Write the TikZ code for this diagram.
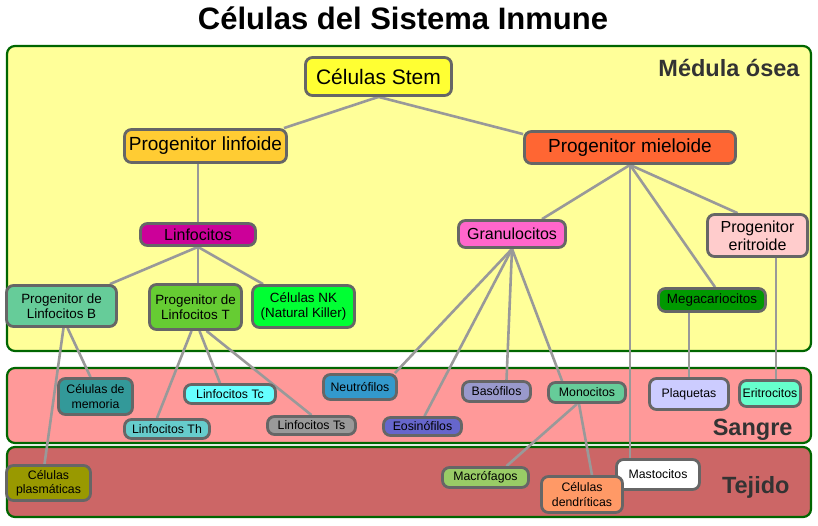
\documentclass[tikz,border=0pt]{standalone}
\usepackage{fontspec}
\setmainfont{Liberation Sans}
\usepackage{tikz}
\usetikzlibrary{backgrounds}

\definecolor{zonegreen}{HTML}{006600}
\definecolor{cmedula}{HTML}{FFFF99}
\definecolor{csangre}{HTML}{FF9999}
\definecolor{ctejido}{HTML}{CC6666}
\definecolor{labelgray}{HTML}{333333}
\definecolor{cellborder}{HTML}{666666}
\definecolor{linkgray}{HTML}{999999}
\definecolor{cstem}{HTML}{FFFF33}
\definecolor{cplinf}{HTML}{FFCC33}
\definecolor{cpmiel}{HTML}{FF6633}
\definecolor{clinfo}{HTML}{CC0099}
\definecolor{cgran}{HTML}{FF66CC}
\definecolor{cperi}{HTML}{FFCCCC}
\definecolor{cmega}{HTML}{009900}
\definecolor{cprogb}{HTML}{66CC99}
\definecolor{cprogt}{HTML}{66CC33}
\definecolor{cnk}{HTML}{00FF33}
\definecolor{cmem}{HTML}{339999}
\definecolor{ctc}{HTML}{66FFFF}
\definecolor{cth}{HTML}{66CCCC}
\definecolor{cts}{HTML}{999999}
\definecolor{cneutro}{HTML}{3399CC}
\definecolor{ceosin}{HTML}{6666CC}
\definecolor{cplasm}{HTML}{999900}
\definecolor{cbaso}{HTML}{9999CC}
\definecolor{cmono}{HTML}{66CC99}
\definecolor{cplaq}{HTML}{CCCCFF}
\definecolor{ceritro}{HTML}{66FFCC}
\definecolor{cmacro}{HTML}{99CC66}
\definecolor{cdendr}{HTML}{FF9966}

\tikzstyle{cell} = [rectangle, rounded corners=7pt, draw=cellborder, line width=2.8pt, align=center, inner sep=0pt, text=black]
\tikzstyle{sml} = [font=\fontsize{12.3}{14.3}\selectfont]
\tikzstyle{mid} = [font=\fontsize{13.4}{15}\selectfont]
\tikzstyle{big} = [font=\fontsize{16}{17.7}\selectfont]
\tikzstyle{huge} = [font=\fontsize{19}{21}\selectfont]
\tikzstyle{link} = [draw=linkgray, line width=2.6pt]
\tikzstyle{zone} = [draw=zonegreen, line width=2.2pt, rounded corners=8pt]
\tikzstyle{zonelabel} = [anchor=base east, text=labelgray, font=\fontsize{23.5}{26}\selectfont\bfseries]

\begin{document}
\begin{tikzpicture}[x=1pt, y=-1pt]

\useasboundingbox (0,0) rectangle (818,526);

\begin{pgfonlayer}{background}
\draw [zone, fill=cmedula] (7,46) rectangle (811,351);
\draw [zone, fill=csangre] (7,368) rectangle (811,443);
\draw [zone, fill=ctejido] (7,447) rectangle (811,517);
\end{pgfonlayer}

\node (title) [anchor=base, font=\fontsize{31}{34}\selectfont\bfseries] at (403,30) {Células del Sistema Inmune};
\node (lmedula) [zonelabel] at (803,77) {Médula ósea};
\node (lsangre) [zonelabel] at (796,435) {Sangre};
\node (ltejido) [zonelabel] at (793,493) {Tejido};

\node (stem) [cell, fill=cstem, minimum width=146pt, minimum height=38pt, font=\fontsize{21}{23}\selectfont] at (378.5,76.5) {Células Stem};
\node (plinf) [cell, huge, fill=cplinf, minimum width=162pt, minimum height=33pt] at (205.5,146) {Progenitor linfoide};
\node (pmiel) [cell, huge, fill=cpmiel, minimum width=211pt, minimum height=32pt] at (630,147.5) {Progenitor mieloide};

\node (linfo) [cell, big, fill=clinfo, minimum width=115pt, minimum height=22pt] at (198,234.5) {Linfocitos};
\node (gran) [cell, big, fill=cgran, minimum width=107pt, minimum height=27pt] at (512,234) {Granulocitos};
\node (peri) [cell, big, fill=cperi, minimum width=100pt, minimum height=42pt] at (757.5,235.5) {Progenitor\\eritroide};
\node (mega) [cell, mid, fill=cmega, minimum width=107pt, minimum height=23pt] at (712,300) {Megacariocitos};

\node (progb) [cell, mid, fill=cprogb, minimum width=110pt, minimum height=41pt] at (61.5,306) {Progenitor de\\Linfocitos B};
\node (progt) [cell, mid, fill=cprogt, minimum width=92pt, minimum height=45pt] at (195.5,307) {Progenitor de\\Linfocitos T};
\node (nk) [cell, mid, fill=cnk, minimum width=102pt, minimum height=42pt] at (303.5,306.5) {Células NK\\(Natural Killer)};

\node (mem) [cell, sml, fill=cmem, minimum width=74pt, minimum height=36pt] at (95.5,396.5) {Células de\\memoria};
\node (tc) [cell, sml, fill=ctc, minimum width=91pt, minimum height=19pt] at (230,394) {Linfocitos Tc};
\node (th) [cell, sml, fill=cth, minimum width=85pt, minimum height=19pt] at (167,429) {Linfocitos Th};
\node (ts) [cell, sml, fill=cts, minimum width=88pt, minimum height=18pt] at (311.5,425.5) {Linfocitos Ts};
\node (neutro) [cell, sml, fill=cneutro, minimum width=73pt, minimum height=25pt] at (360,387) {Neutrófilos};
\node (eosin) [cell, sml, fill=ceosin, minimum width=78pt, minimum height=18pt] at (422.5,426.5) {Eosinófilos};
\node (baso) [cell, sml, fill=cbaso, minimum width=68pt, minimum height=20pt] at (496.5,391.5) {Basófilos};
\node (mono) [cell, sml, fill=cmono, minimum width=77pt, minimum height=20pt] at (587,392.5) {Monocitos};
\node (plaq) [cell, sml, fill=cplaq, minimum width=79pt, minimum height=31pt] at (689,394) {Plaquetas};
\node (eritro) [cell, sml, fill=ceritro, minimum width=61pt, minimum height=26pt] at (770,393.5) {Eritrocitos};

\node (plasm) [cell, sml, fill=cplasm, minimum width=84pt, minimum height=35pt] at (48.5,483) {Células\\plasmáticas};
\node (macro) [cell, sml, fill=cmacro, minimum width=86pt, minimum height=20pt] at (485.5,477.5) {Macrófagos};
\node (masto) [cell, sml, fill=white, minimum width=83pt, minimum height=30pt] at (658,474.5) {Mastocitos};
\node (dendr) [cell, sml, fill=cdendr, minimum width=81pt, minimum height=36pt] at (582,494.5) {Células\\dendríticas};

\begin{pgfonlayer}{background}
\draw [link] (stem.south) -- ([xshift=-4pt]plinf.north east);
\draw [link] (stem.south) -- ([yshift=-4pt]pmiel.north west);
\draw [link] (linfo.north) -- (linfo.north |- plinf.south);
\draw [link] (pmiel.south) -- ([xshift=30pt]gran.north);
\draw [link] (pmiel.south) -- (pmiel.south |- masto.north);
\draw [link] (pmiel.south) -- ([xshift=3pt]mega.north);
\draw [link] (pmiel.south) -- ([xshift=-20pt]peri.north);
\draw [link] (linfo.south) -- ([xshift=-8pt]progb.north east);
\draw [link] (linfo.south) -- (linfo.south |- progt.north);
\draw [link] (linfo.south) -- ([xshift=12pt]nk.north west);
\draw [link] (gran.south) -- ([xshift=-3pt]neutro.north east);
\draw [link] (gran.south) -- ([xshift=2pt]eosin.north);
\draw [link] (gran.south) -- ([xshift=10pt]baso.north);
\draw [link] (gran.south) -- ([xshift=15pt]mono.north west);
\draw [link] (plaq.north) -- (plaq.north |- mega.south);
\draw [link] ([xshift=6pt]eritro.north) -- ([xshift=6pt]eritro.north |- peri.south);
\draw [link] ([xshift=6pt]progb.south) -- ([xshift=-5pt]mem.north);
\draw [link] ([xshift=2pt]progb.south) -- ([xshift=-4pt]plasm.north);
\draw [link] ([xshift=-4pt]progt.south) -- ([xshift=-10pt]th.north);
\draw [link] ([xshift=4pt]progt.south) -- ([xshift=-10pt]tc.north);
\draw [link] ([xshift=11pt]progt.south) -- (ts.north);
\draw [link] ([xshift=-10pt]mono.south) -- ([xshift=21pt]macro.north);
\draw [link] ([xshift=-8pt]mono.south) -- ([xshift=10pt]dendr.north);
\end{pgfonlayer}

\end{tikzpicture}
\end{document}
